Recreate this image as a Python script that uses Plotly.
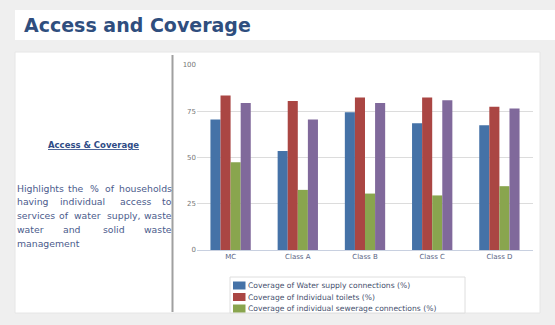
import plotly.graph_objects as go

categories = ["MC", "Class A", "Class B", "Class C", "Class D"]
water_supply = [70.5, 53.5, 74.5, 68.5, 67.5]
toilets = [83.5, 80.5, 82.5, 82.5, 77.5]
sewerage = [47.5, 32.5, 30.5, 29.5, 34.5]
solid_waste = [79.5, 70.5, 79.5, 81, 76.5]

series_names = [
    "Coverage of Water supply connections (%)",
    "Coverage of Individual toilets (%)",
    "Coverage of individual sewerage connections (%)",
    "Coverage of solid waste management (%)",
]
series_colors = ["#4572A7", "#AA4643", "#89A54E", "#80699B"]
series_values = [water_supply, toilets, sewerage, solid_waste]
y_ticks = [0, 25, 50, 75, 100]

W, H = 555, 325
L, R, T, B = 197, 22, 65, 75
PW, PH = W - L - R, H - T - B


def px(x):
    return (x - L) / PW


def py(y):
    return (H - B - y) / PH


fig = go.Figure()
for name, color, vals in zip(series_names, series_colors, series_values):
    fig.add_trace(go.Bar(
        x=categories, y=vals, name=name, marker_color=color,
        marker_line_width=0, showlegend=False,
    ))

shapes = [
    # title bar
    dict(type="rect", xref="paper", yref="paper", x0=px(15), x1=px(556), y0=py(40), y1=py(10),
         fillcolor="white", line=dict(width=0), layer="below"),
    # main panel
    dict(type="rect", xref="paper", yref="paper", x0=px(15), x1=px(540), y0=py(313), y1=py(52),
         fillcolor="white", line=dict(width=1, color="#e6e6e6"), layer="below"),
    # separator
    dict(type="line", xref="paper", yref="paper", x0=px(172.5), x1=px(172.5), y0=py(312), y1=py(55),
         line=dict(width=2, color="#a0a0a0"), layer="below"),
]

annotations = [
    dict(text="<b>Access and Coverage</b>", xref="paper", yref="paper", x=px(22), y=py(25),
         xanchor="left", yanchor="middle", showarrow=False,
         font=dict(family="DejaVu Sans", size=19, color="#2f4e7e")),
    dict(text="<b><u>Access &amp; Coverage</u></b>", xref="paper", yref="paper", x=px(93), y=py(145),
         xanchor="center", yanchor="middle", showarrow=False,
         font=dict(family="DejaVu Sans", size=8.5, color="#2f4c86")),
]

para_lines = [
    "Highlights the % of households",
    "having individual access to",
    "services of water supply, waste",
    "water and solid waste",
    "management",
]
para_y = [188, 201.5, 215, 229, 243]
fs = 9.3
# approximate DejaVu Sans advance widths (em)
EM = {"a": .613, "b": .635, "c": .55, "d": .635, "e": .615, "f": .352, "g": .635,
      "h": .634, "i": .278, "l": .278, "m": .974, "n": .634, "o": .612, "p": .635,
      "r": .411, "s": .521, "t": .392, "u": .634, "v": .592, "w": .818, "y": .592,
      "H": .752, "%": .95, ",": .318}


def text_w(word):
    return sum(EM.get(c, .6) for c in word) * fs


left, right = 15, 174
for i, (line, yy) in enumerate(zip(para_lines, para_y)):
    words = line.split()
    if i == len(para_lines) - 1 or len(words) == 1:
        annotations.append(dict(text=line, xref="paper", yref="paper", x=px(left), y=py(yy),
                                xanchor="left", yanchor="middle", showarrow=False,
                                font=dict(family="DejaVu Sans", size=fs, color="#4b5b8c")))
        continue
    widths = [text_w(w) for w in words]
    gap = (right - left - sum(widths)) / (len(words) - 1)
    xcur = left
    for j, (w, wd) in enumerate(zip(words, widths)):
        if j == 0:
            xa, xx = "left", left
        elif j == len(words) - 1:
            xa, xx = "right", right
        else:
            xa, xx = "center", xcur + wd / 2
        annotations.append(dict(text=w, xref="paper", yref="paper", x=px(xx), y=py(yy),
                                xanchor=xa, yanchor="middle", showarrow=False,
                                font=dict(family="DejaVu Sans", size=fs, color="#4b5b8c")))
        xcur += wd + gap

# legend box (clipped by the panel bottom, as in the original page)
shapes.append(dict(type="rect", xref="paper", yref="paper", x0=px(230), x1=px(465),
                   y0=py(313), y1=py(277), fillcolor="white",
                   line=dict(width=1, color="#dedede"), layer="above"))
leg_y = [285.5, 297, 308.5]
for name, color, yy in zip(series_names[:3], series_colors[:3], leg_y):
    shapes.append(dict(type="rect", xref="paper", yref="paper", x0=px(233), x1=px(245.5),
                       y0=py(yy + 4), y1=py(yy - 4), fillcolor=color,
                       line=dict(width=0), layer="above"))
    annotations.append(dict(text=name, xref="paper", yref="paper", x=px(246), y=py(yy),
                            xanchor="left", yanchor="middle", showarrow=False,
                            font=dict(family="DejaVu Sans", size=7.6, color="#46506e")))

fig.update_layout(
    width=W, height=H,
    margin=dict(l=L, r=R, t=T, b=B, pad=0),
    paper_bgcolor="#efefef",
    plot_bgcolor="rgba(0,0,0,0)",
    barmode="group", bargap=0.4, bargroupgap=0,
    font=dict(family="DejaVu Sans", color="#666666"),
    shapes=shapes, annotations=annotations,
    showlegend=False,
)
fig.update_yaxes(range=[0, 100], tickvals=y_ticks, showgrid=True, gridcolor="#dcdcdc",
                 gridwidth=1, zeroline=False, showline=False,
                 tickfont=dict(size=7, color="#777777"), ticks="", fixedrange=True)
fig.update_xaxes(showline=True, linecolor="#c8d0e0", linewidth=1, ticks="",
                 tickfont=dict(size=7, color="#5a6484"), fixedrange=True)

fig.write_html("out.html")
